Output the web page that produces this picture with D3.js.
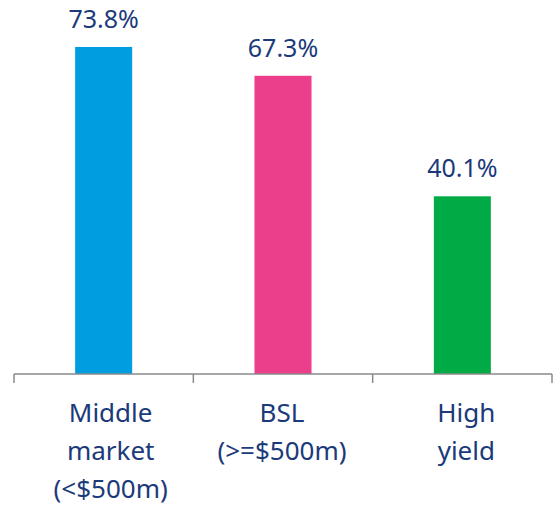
<html>
<head>
  <meta charset="utf-8">
  <title>Bar chart</title>
  <style>
    html, body { margin: 0; padding: 0; background: #fff; }
    svg { display: block; }
    text { font-family: "Noto Sans", "Open Sans", sans-serif; fill: #1b3a7a; }
  </style>
  <script src="https://d3js.org/d3.v7.js" charset="utf-8"></script>
</head>
<body>
<script>
  var categories = ["Middle market (<$500m)", "BSL (>=$500m)", "High yield"];
  var labelLines = [["Middle", "market", "(<$500m)"], ["BSL", "(>=$500m)"], ["High", "yield"]];
  var values = [73.8, 67.3, 40.1];
  var colors = ["#009ee0", "#ec3f8b", "#00aa45"];

  var width = 555, height = 507;
  var svg = d3.select("body").append("svg")
    .attr("width", width)
    .attr("height", height);

  // x band covers the axis line, ticks sit on band edges
  var x = d3.scaleBand()
    .domain(categories)
    .range([14, 552])
    .padding(0);

  var y = d3.scaleLinear()
    .domain([0, 80])
    .range([374, 19.5]);

  var barW = x.bandwidth() * 0.318;
  // category labels in the original are not quite centred under their bars
  var labelShift = [7, -1, 4];

  svg.selectAll("rect.bar")
    .data(values)
    .enter()
    .append("rect")
    .attr("class", "bar")
    .attr("x", (d, i) => x(categories[i]) + x.bandwidth() / 2 - barW / 2)
    .attr("y", d => y(d))
    .attr("width", barW)
    .attr("height", d => y(0) - y(d))
    .attr("fill", (d, i) => colors[i]);

  // value labels
  svg.selectAll("text.val")
    .data(values)
    .enter()
    .append("text")
    .attr("class", "val")
    .attr("x", (d, i) => x(categories[i]) + x.bandwidth() / 2)
    .attr("y", d => y(d) - 19)
    .attr("text-anchor", "middle")
    .attr("font-size", "25px")
    .text(d => d.toFixed(1) + "%");

  // axis line + ticks
  var axisColor = "#8a8a8a";
  svg.append("line")
    .attr("x1", x.range()[0]).attr("x2", x.range()[1])
    .attr("y1", y(0)).attr("y2", y(0))
    .attr("stroke", axisColor)
    .attr("stroke-width", 1.5);

  var edges = categories.map(c => x(c)).concat([x.range()[1]]);
  svg.selectAll("line.tick")
    .data(edges)
    .enter()
    .append("line")
    .attr("class", "tick")
    .attr("x1", d => d).attr("x2", d => d)
    .attr("y1", y(0)).attr("y2", y(0) + 9)
    .attr("stroke", axisColor)
    .attr("stroke-width", 1.5);

  // category labels
  var labels = svg.selectAll("text.cat")
    .data(categories)
    .enter()
    .append("text")
    .attr("class", "cat")
    .attr("text-anchor", "middle")
    .attr("font-size", "26px")
    .attr("y", 421.5);

  labels.each(function (d, i) {
    var cx = x(d) + x.bandwidth() / 2 + labelShift[i];
    d3.select(this).selectAll("tspan")
      .data(labelLines[i])
      .enter()
      .append("tspan")
      .attr("x", cx)
      .attr("dy", (t, j) => j === 0 ? 0 : 38)
      .text(t => t);
  });
</script>
</body>
</html>
